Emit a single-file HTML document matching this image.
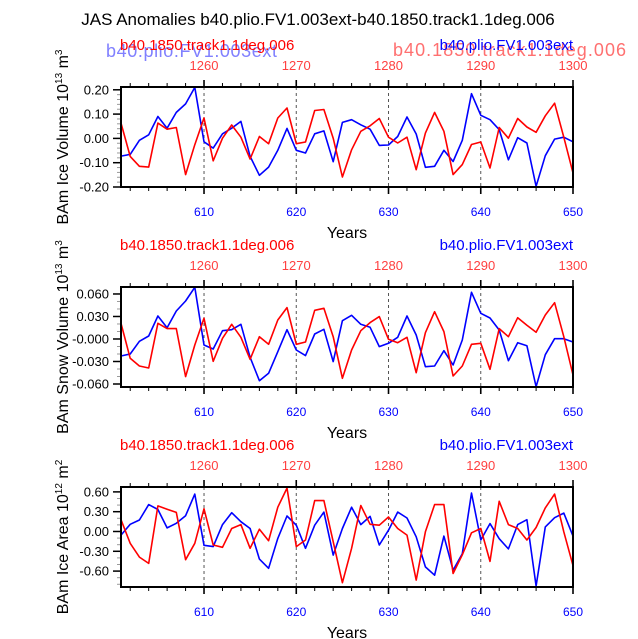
<!DOCTYPE html>
<html><head><meta charset="utf-8"><style>
html,body{margin:0;padding:0;background:#fff;}
svg{display:block;font-family:"Liberation Sans",sans-serif;}
</style></head><body>
<svg id="chart" width="638" height="639" viewBox="0 0 638 639" xmlns="http://www.w3.org/2000/svg">
<text x="318" y="25" font-size="17" text-anchor="middle" fill="#000">JAS Anomalies b40.plio.FV1.003ext-b40.1850.track1.1deg.006</text>
</svg>
<script>
const years = [];
for (let y = 601; y <= 650; y++) years.push(y);
const bottomTickYears = [610, 620, 630, 640, 650];
const topTickLabels = ["1260", "1270", "1280", "1290", "1300"];

const iceVolBlue = [-0.073,-0.066,-0.008,0.015,0.09,0.042,0.107,0.142,0.21,-0.014,-0.04,0.019,0.042,0.07,-0.074,-0.152,-0.118,-0.049,0.041,-0.049,-0.06,0.019,0.031,-0.096,0.066,0.077,0.056,0.038,-0.029,-0.027,0.008,0.088,0.018,-0.119,-0.115,-0.049,-0.095,-0.008,0.184,0.095,0.077,0.036,-0.088,0.003,-0.019,-0.197,-0.071,-0.003,0.005,-0.014];
const iceVolRed = [0.063,-0.074,-0.115,-0.118,0.063,0.038,0.045,-0.149,-0.026,0.084,-0.092,0.001,0.055,0.005,-0.085,0.008,-0.022,0.084,0.125,-0.022,-0.015,0.115,0.119,0.001,-0.159,-0.047,0.029,0.052,0.082,0.005,-0.019,0.005,-0.129,0.022,0.107,0.029,-0.149,-0.108,-0.025,-0.015,-0.122,0.045,0.001,0.082,0.047,0.025,0.093,0.145,0.005,-0.142];
const snowBlue = [-0.0227,-0.020,-0.0031,0.004,0.0307,0.0151,0.0373,0.0507,0.0689,-0.008,-0.0133,0.0111,0.0124,0.0196,-0.0244,-0.0556,-0.0458,-0.0169,0.0124,-0.0147,-0.0222,0.0067,0.0129,-0.0302,0.0244,0.0316,0.0196,0.0156,-0.0102,-0.0058,0.0022,0.0307,0.0053,-0.0369,-0.036,-0.0156,-0.0347,-0.0013,0.0622,0.0342,0.028,0.012,-0.0289,-0.0049,-0.0089,-0.0636,-0.0209,0.0004,0.0004,-0.004];
const snowRed = [0.0209,-0.0258,-0.036,-0.0387,0.0209,0.0138,0.0138,-0.0502,-0.008,0.0276,-0.0298,0.0009,0.0196,0.0022,-0.0271,0.0031,-0.0071,0.0253,0.0418,-0.0071,-0.004,0.0382,0.0409,0.0031,-0.0524,-0.0147,0.0111,0.0218,0.0298,-0.0004,-0.0049,0.0022,-0.0449,0.0084,0.0364,0.0098,-0.0493,-0.036,-0.0071,-0.0058,-0.0404,0.0138,0.0031,0.0284,0.0182,0.0089,0.032,0.0484,0.0031,-0.048];
const areaBlue = [-0.055,0.109,0.174,0.408,0.333,0.055,0.124,0.239,0.567,-0.209,-0.229,0.104,0.284,0.149,0.045,-0.418,-0.557,-0.104,0.234,0.095,-0.254,0.095,0.294,-0.358,0.045,0.368,0.104,0.229,-0.204,0.02,0.294,0.204,-0.08,-0.537,-0.662,-0.07,-0.587,-0.338,0.582,-0.129,0.119,-0.109,-0.264,0.104,0.179,-0.826,0.07,0.209,0.279,-0.07];
const areaRed = [0.179,-0.179,-0.388,-0.483,0.388,0.338,0.289,-0.428,-0.179,0.343,-0.204,-0.239,0.045,0.104,-0.254,0.035,-0.139,0.368,0.657,-0.229,-0.129,0.468,0.468,-0.154,-0.776,-0.254,0.393,0.109,0.095,0.219,0.045,-0.055,-0.736,-0.005,0.408,0.408,-0.637,-0.353,-0.02,0.045,-0.453,0.458,0.104,0.045,-0.129,0.06,0.358,0.567,-0.005,-0.517];

const volTicks = [0.2, 0.1, 0, -0.1, -0.2];
const volTickLabels = ["0.20","0.10","0.00","-0.10","-0.20"];
const snowTicks = [0.06, 0.03, 0, -0.03, -0.06];
const snowTickLabels = ["0.060","0.030","-0.000","-0.030","-0.060"];
const areaTicks = [0.6, 0.3, 0, -0.3, -0.6];
const areaTickLabels = ["0.60","0.30","0.00","-0.30","-0.60"];

const NS = "http://www.w3.org/2000/svg";
const svg = document.getElementById("chart");
const X0 = 121, X1 = 573, YMIN = 601, YMAX = 650;
function xs(yr){ return X0 + (yr - YMIN) / (YMAX - YMIN) * (X1 - X0); }
function mk(tag, attrs, parent){
  const e = document.createElementNS(NS, tag);
  for (const k in attrs) e.setAttribute(k, attrs[k]);
  (parent || svg).appendChild(e);
  return e;
}

const panels = [
  {top:87, bot:187, vmin:-0.2, vmax:0.2115, blue:iceVolBlue, red:iceVolRed, ticks:volTicks, labels:volTickLabels, minor:0.02, name:"ice-volume", title:["BAm Ice Volume 10","13"," m","3"], ghost:true},
  {top:287, bot:387, vmin:-0.0640, vmax:0.0693, blue:snowBlue, red:snowRed, ticks:snowTicks, labels:snowTickLabels, minor:0.01, name:"snow-volume", title:["BAm Snow Volume 10","13"," m","3"], ghost:false},
  {top:487, bot:587, vmin:-0.841, vmax:0.674, blue:areaBlue, red:areaRed, ticks:areaTicks, labels:areaTickLabels, minor:0.1, name:"ice-area", title:["BAm Ice Area 10","12"," m","2"], ghost:false}
];

panels.forEach(function(p){
  const g = mk("g", {});
  
  
  function ys(v){ return p.bot - (v - p.vmin) / (p.vmax - p.vmin) * (p.bot - p.top); }
  if (p.ghost){
    const gb = mk("text", {x:106, y:p.top - 30, "font-size":18, fill:"#8080ff", "textLength":171}, g);
    gb.textContent = "b40.plio.FV1.003ext";
    
    
    const gr = mk("text", {x:393, y:p.top - 31, "font-size":18, fill:"#ff7070", "textLength":233}, g);
    gr.textContent = "b40.1850.track1.1deg.006";
    
    
  }
  [610,620,630,640].forEach(function(yr){
    const l = mk("line", {x1:xs(yr), x2:xs(yr), y1:p.top, y2:p.bot, stroke:"#555", "stroke-width":1, "stroke-dasharray":"3,3"}, g);
    
    
  });
  for (let yr = 602; yr <= 650; yr += 2){
    const x = xs(yr);
    const major = (yr % 10 === 0);
    const len = major ? 7 : 4;
    mk("line", {x1:x, x2:x, y1:p.bot, y2:p.bot + len, stroke:"#000", "stroke-width":major?1.6:1}, g);
    mk("line", {x1:x, x2:x, y1:p.top, y2:p.top - len, stroke:"#000", "stroke-width":major?1.6:1}, g);
  }
  const lo = Math.ceil(p.vmin / p.minor - 1e-6), hi = Math.floor(p.vmax / p.minor + 1e-6);
  for (let i = lo; i <= hi; i++){
    const y = ys(i * p.minor);
    mk("line", {x1:X0 - 4, x2:X0, y1:y, y2:y, stroke:"#999", "stroke-width":1}, g);
  }
  p.ticks.forEach(function(v, i){
    const y = ys(v);
    mk("line", {x1:X0 - 8, x2:X0, y1:y, y2:y, stroke:"#000", "stroke-width":1.5}, g);
    const t = mk("text", {x:X0 - 12, y:y + 4.5, "font-size":13, "text-anchor":"end", fill:"#000"}, g);
    t.textContent = p.labels[i];
    
    
  });
  [[p.blue, "#0000ff", "blue-series"], [p.red, "#ff0000", "red-series"]].forEach(function(s){
    const pts = years.map(function(yr, i){ return xs(yr).toFixed(1) + "," + ys(s[0][i]).toFixed(1); }).join(" ");
    const pl = mk("polyline", {points:pts, fill:"none", stroke:s[1], "stroke-width":1.6, "stroke-linejoin":"round"}, g);
    
    
  });
  const fr = mk("rect", {x:X0, y:p.top, width:X1 - X0, height:p.bot - p.top, fill:"none", stroke:"#000", "stroke-width":2}, g);
  
  
  bottomTickYears.forEach(function(yr, i){
    const t = mk("text", {x:xs(yr), y:p.bot + 29, "font-size":12, "text-anchor":"middle", fill:"#0000ff"}, g);
    t.textContent = String(yr);
    
    
    const t2 = mk("text", {x:xs(yr), y:p.top - 17, "font-size":13, "text-anchor":"middle", fill:"#ff4040"}, g);
    t2.textContent = topTickLabels[i];
    
    
  });
  const xt = mk("text", {x:(X0 + X1) / 2, y:p.bot + 51, "font-size":16, "text-anchor":"middle", fill:"#000"}, g);
  xt.textContent = "Years";
  
  
  const cy = (p.top + p.bot) / 2;
  const yt = mk("text", {x:0, y:0, "font-size":16, "text-anchor":"middle", fill:"#000", transform:"translate(68," + cy + ") rotate(-90)"}, g);
  
  
  const a = mk("tspan", {}, yt); a.textContent = p.title[0];
  const b = mk("tspan", {dy:-6, "font-size":10}, yt); b.textContent = p.title[1];
  const c = mk("tspan", {dy:6}, yt); c.textContent = p.title[2];
  const d = mk("tspan", {dy:-6, "font-size":10}, yt); d.textContent = p.title[3];
  const rl = mk("text", {x:120, y:p.top - 37, "font-size":15, fill:"#ff0000"}, g);
  rl.textContent = "b40.1850.track1.1deg.006";
  
  
  const bl = mk("text", {x:573, y:p.top - 37, "font-size":15, "text-anchor":"end", fill:"#0000ff"}, g);
  bl.textContent = "b40.plio.FV1.003ext";
  
  
});
</script>
</body></html>
